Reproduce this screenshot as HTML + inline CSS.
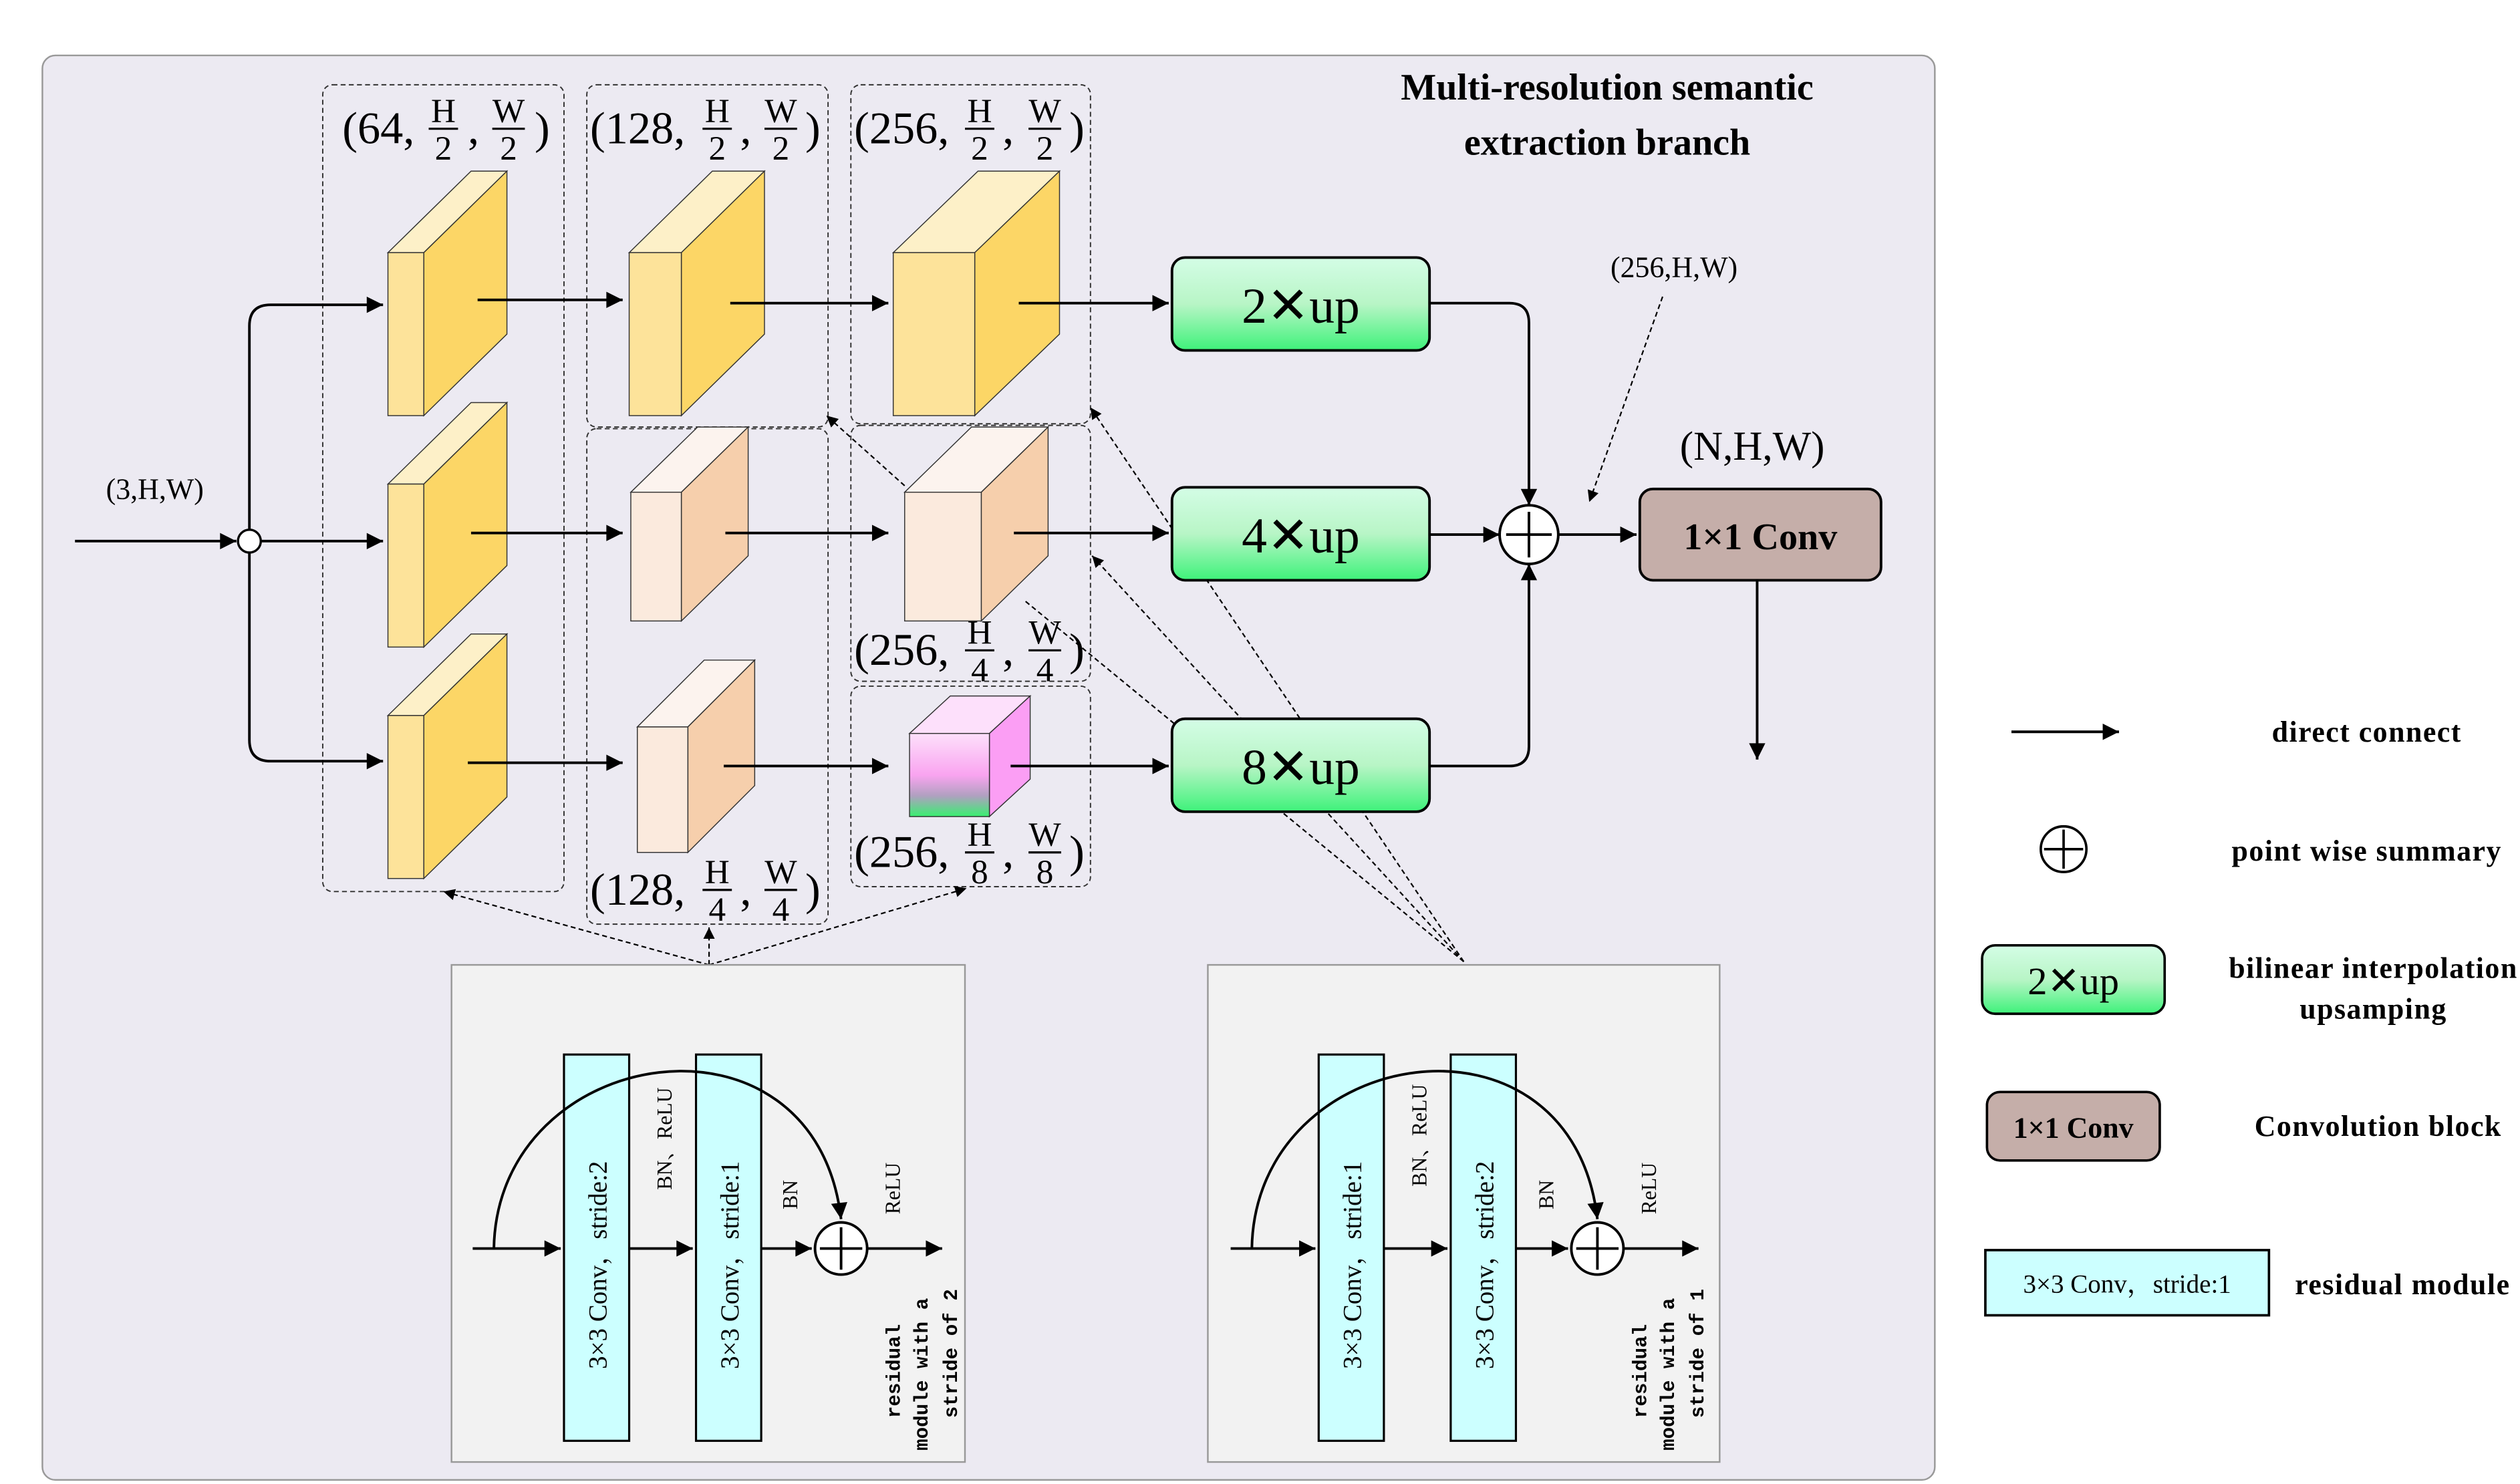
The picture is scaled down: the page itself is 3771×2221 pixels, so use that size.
<!DOCTYPE html>
<html><head><meta charset="utf-8"><style>
html,body{margin:0;padding:0;background:#fff}
svg{display:block}
text{font-family:"Liberation Serif","Noto Serif CJK SC","Noto Sans CJK SC",serif;fill:#000}
.b{font-weight:bold}
.m text{font-family:"Liberation Mono",monospace;font-weight:bold}
</style></head><body>
<svg width="3771" height="2221" viewBox="0 0 1546 910.5" preserveAspectRatio="none" xmlns="http://www.w3.org/2000/svg">
<defs>
<marker id="a" viewBox="0 0 10 10" refX="10" refY="5" markerWidth="11" markerHeight="10" markerUnits="userSpaceOnUse" orient="auto"><path d="M0,0L10,5L0,10z" fill="#000"/></marker>
<marker id="s" viewBox="0 0 10 10" refX="10" refY="5" markerWidth="8" markerHeight="7" markerUnits="userSpaceOnUse" orient="auto"><path d="M0,0L10,5L0,10z" fill="#000"/></marker>
<linearGradient id="g" x1="0" y1="0" x2="0" y2="1"><stop offset="0" stop-color="#d4fde6"/><stop offset="0.5" stop-color="#b8f5c6"/><stop offset="1" stop-color="#3ef27a"/></linearGradient>
<linearGradient id="p" x1="0" y1="0" x2="0" y2="1"><stop offset="0" stop-color="#fde0fb"/><stop offset="0.5" stop-color="#f9a4f0"/><stop offset="0.75" stop-color="#b0a0c0"/><stop offset="1" stop-color="#38f070"/></linearGradient>
</defs>
<rect x="0" y="0" width="1546" height="910.5" fill="#fff"/>
<rect x="26" y="34" width="1161" height="874" rx="8" fill="#eceaf2" stroke="#999" stroke-width="1"/>
<text x="986" y="61" font-size="23" class="b" text-anchor="middle">Multi-resolution semantic</text>
<text x="986" y="95" font-size="23" class="b" text-anchor="middle">extraction branch</text>

<g fill="none" stroke="#333" stroke-width="0.8" stroke-dasharray="3,2">
<rect x="198" y="52" width="148" height="495" rx="6"/>
<rect x="360" y="52" width="148" height="210" rx="6"/>
<rect x="360" y="263" width="148" height="304" rx="6"/>
<rect x="522" y="52" width="147" height="208" rx="6"/>
<rect x="522" y="261" width="147" height="157" rx="6"/>
<rect x="522" y="421" width="147" height="123" rx="6"/>
</g>

<g font-size="28">
<text x="210" y="88">(64,</text><text x="272" y="75" font-size="21" text-anchor="middle">H</text><line x1="263" y1="79" x2="281" y2="79" stroke="#000" stroke-width="1.3"/><text x="272" y="98" font-size="21" text-anchor="middle">2</text><text x="287" y="88">,</text><text x="312" y="75" font-size="21" text-anchor="middle">W</text><line x1="302" y1="79" x2="322" y2="79" stroke="#000" stroke-width="1.3"/><text x="312" y="98" font-size="21" text-anchor="middle">2</text><text x="328" y="88">)</text>
<text x="362" y="88">(128,</text><text x="440" y="75" font-size="21" text-anchor="middle">H</text><line x1="431" y1="79" x2="449" y2="79" stroke="#000" stroke-width="1.3"/><text x="440" y="98" font-size="21" text-anchor="middle">2</text><text x="454" y="88">,</text><text x="479" y="75" font-size="21" text-anchor="middle">W</text><line x1="469" y1="79" x2="489" y2="79" stroke="#000" stroke-width="1.3"/><text x="479" y="98" font-size="21" text-anchor="middle">2</text><text x="494" y="88">)</text>
<text x="524" y="88">(256,</text><text x="601" y="75" font-size="21" text-anchor="middle">H</text><line x1="592" y1="79" x2="610" y2="79" stroke="#000" stroke-width="1.3"/><text x="601" y="98" font-size="21" text-anchor="middle">2</text><text x="615" y="88">,</text><text x="641" y="75" font-size="21" text-anchor="middle">W</text><line x1="631" y1="79" x2="651" y2="79" stroke="#000" stroke-width="1.3"/><text x="641" y="98" font-size="21" text-anchor="middle">2</text><text x="656" y="88">)</text>
<text x="524" y="408">(256,</text><text x="601" y="395" font-size="21" text-anchor="middle">H</text><line x1="592" y1="399" x2="610" y2="399" stroke="#000" stroke-width="1.3"/><text x="601" y="418" font-size="21" text-anchor="middle">4</text><text x="615" y="408">,</text><text x="641" y="395" font-size="21" text-anchor="middle">W</text><line x1="631" y1="399" x2="651" y2="399" stroke="#000" stroke-width="1.3"/><text x="641" y="418" font-size="21" text-anchor="middle">4</text><text x="656" y="408">)</text>
<text x="524" y="532">(256,</text><text x="601" y="519" font-size="21" text-anchor="middle">H</text><line x1="592" y1="523" x2="610" y2="523" stroke="#000" stroke-width="1.3"/><text x="601" y="542" font-size="21" text-anchor="middle">8</text><text x="615" y="532">,</text><text x="641" y="519" font-size="21" text-anchor="middle">W</text><line x1="631" y1="523" x2="651" y2="523" stroke="#000" stroke-width="1.3"/><text x="641" y="542" font-size="21" text-anchor="middle">8</text><text x="656" y="532">)</text>
<text x="362" y="555">(128,</text><text x="440" y="542" font-size="21" text-anchor="middle">H</text><line x1="431" y1="546" x2="449" y2="546" stroke="#000" stroke-width="1.3"/><text x="440" y="565" font-size="21" text-anchor="middle">4</text><text x="454" y="555">,</text><text x="479" y="542" font-size="21" text-anchor="middle">W</text><line x1="469" y1="546" x2="489" y2="546" stroke="#000" stroke-width="1.3"/><text x="479" y="565" font-size="21" text-anchor="middle">4</text><text x="494" y="555">)</text>
</g>

<g fill="none" stroke="#000" stroke-width="0.9" stroke-dasharray="3,2">
<line x1="435" y1="592" x2="272" y2="547" marker-end="url(#s)"/>
<line x1="435" y1="592" x2="435" y2="569" marker-end="url(#s)"/>
<line x1="435" y1="592" x2="593" y2="545" marker-end="url(#s)"/>
<line x1="898" y1="590" x2="669" y2="250" marker-end="url(#s)"/>
<line x1="898" y1="590" x2="670" y2="341" marker-end="url(#s)"/>
<line x1="898" y1="590" x2="628" y2="368"/>
<line x1="555" y1="298" x2="507" y2="255" marker-end="url(#s)"/>
<line x1="1020" y1="182" x2="975" y2="308" marker-end="url(#s)"/>
</g>

<g stroke="#333" stroke-width="0.6">
<g id="y1"><polygon points="238,155 260,155 311,105 289,105" fill="#fdf0c8"/><polygon points="260,155 311,105 311,205 260,255" fill="#fcd666"/><rect x="238" y="155" width="22" height="100" fill="#fde39a"/></g>
<use href="#y1" y="142"/><use href="#y1" y="284"/>
<polygon points="386,155 418,155 469,105 437,105" fill="#fdf0c8"/><polygon points="418,155 469,105 469,205 418,255" fill="#fcd666"/><rect x="386" y="155" width="32" height="100" fill="#fde39a"/>
<polygon points="548,155 598,155 650,105 600,105" fill="#fdf0c8"/><polygon points="598,155 650,105 650,205 598,255" fill="#fcd666"/><rect x="548" y="155" width="50" height="100" fill="#fde39a"/>
<polygon points="387,302 418,302 459,262 428,262" fill="#fcf3ee"/><polygon points="418,302 459,262 459,341 418,381" fill="#f6cfac"/><rect x="387" y="302" width="31" height="79" fill="#fbeadd"/>
<polygon points="391,446 422,446 463,405 432,405" fill="#fcf3ee"/><polygon points="422,446 463,405 463,482 422,523" fill="#f6cfac"/><rect x="391" y="446" width="31" height="77" fill="#fbeadd"/>
<polygon points="555,302 602,302 643,262 596,262" fill="#fcf3ee"/><polygon points="602,302 643,262 643,341 602,381" fill="#f6cfac"/><rect x="555" y="302" width="47" height="79" fill="#fbeadd"/>
<polygon points="558,450 607,450 632,427 583,427" fill="#fde0fb"/><polygon points="607,450 632,427 632,478 607,501" fill="#fb9ef4"/><rect x="558" y="450" width="49" height="51" fill="url(#p)"/>
</g>

<g fill="none" stroke="#000" stroke-width="1.6">
<line x1="46" y1="332" x2="145" y2="332" marker-end="url(#a)"/>
<path d="M153,325 V200 Q153,187 166,187 H235" marker-end="url(#a)"/>
<line x1="160" y1="332" x2="235" y2="332" marker-end="url(#a)"/>
<path d="M153,339 V454 Q153,467 166,467 H235" marker-end="url(#a)"/>
<line x1="293" y1="184" x2="382" y2="184" marker-end="url(#a)"/>
<line x1="448" y1="186" x2="545" y2="186" marker-end="url(#a)"/>
<line x1="625" y1="186" x2="717" y2="186" marker-end="url(#a)"/>
<line x1="289" y1="327" x2="382" y2="327" marker-end="url(#a)"/>
<line x1="445" y1="327" x2="545" y2="327" marker-end="url(#a)"/>
<line x1="622" y1="327" x2="717" y2="327" marker-end="url(#a)"/>
<line x1="287" y1="468" x2="382" y2="468" marker-end="url(#a)"/>
<line x1="444" y1="470" x2="545" y2="470" marker-end="url(#a)"/>
<line x1="620" y1="470" x2="717" y2="470" marker-end="url(#a)"/>
<path d="M877,186 H926 Q938,186 938,198 V310" marker-end="url(#a)"/>
<path d="M877,470 H926 Q938,470 938,458 V346" marker-end="url(#a)"/>
<line x1="877" y1="328" x2="920" y2="328" marker-end="url(#a)"/>
<line x1="956" y1="328" x2="1004" y2="328" marker-end="url(#a)"/>
<line x1="1078" y1="356" x2="1078" y2="466" marker-end="url(#a)"/>
</g>
<circle cx="153" cy="332" r="7" fill="#fff" stroke="#000" stroke-width="1.4"/>
<text x="95" y="306" font-size="18" text-anchor="middle">(3,H,W)</text>

<g stroke="#000" stroke-width="1.6">
<rect x="719" y="158" width="158" height="57" rx="8" fill="url(#g)"/>
<rect x="719" y="299" width="158" height="57" rx="8" fill="url(#g)"/>
<rect x="719" y="441" width="158" height="57" rx="8" fill="url(#g)"/>
</g>
<g font-size="31" text-anchor="middle"><text x="798" y="198">2✕up</text><text x="798" y="339">4✕up</text><text x="798" y="481">8✕up</text></g>

<circle cx="938" cy="328" r="18" fill="#fff" stroke="#000" stroke-width="1.6"/>
<path d="M924,328H952M938,314V342" stroke="#000" stroke-width="1.6"/>
<text x="1027" y="170" font-size="18" text-anchor="middle">(256,H,W)</text>
<text x="1075" y="282" font-size="25" text-anchor="middle">(N,H,W)</text>
<rect x="1006" y="300" width="148" height="56" rx="8" fill="#c5aea9" stroke="#000" stroke-width="1.6"/>
<text x="1080" y="337" font-size="23" class="b" text-anchor="middle">1×1 Conv</text>

<rect x="277" y="592" width="315" height="305" fill="#f2f2f2" stroke="#999" stroke-width="1"/>
<rect x="741" y="592" width="314" height="305" fill="#f2f2f2" stroke="#999" stroke-width="1"/>
<g stroke="#000" stroke-width="1.3" fill="#ccffff">
<rect x="346" y="647" width="40" height="237"/><rect x="427" y="647" width="40" height="237"/>
<rect x="809" y="647" width="40" height="237"/><rect x="890" y="647" width="40" height="237"/>
</g>
<g fill="none" stroke="#000" stroke-width="1.6">
<line x1="290" y1="766" x2="344" y2="766" marker-end="url(#a)"/>
<line x1="386" y1="766" x2="425" y2="766" marker-end="url(#a)"/>
<line x1="467" y1="766" x2="498" y2="766" marker-end="url(#a)"/>
<line x1="532" y1="766" x2="578" y2="766" marker-end="url(#a)"/>
<path d="M303,766 C305,640 500,610 516,748" marker-end="url(#a)"/>
<line x1="755" y1="766" x2="807" y2="766" marker-end="url(#a)"/>
<line x1="849" y1="766" x2="888" y2="766" marker-end="url(#a)"/>
<line x1="930" y1="766" x2="962" y2="766" marker-end="url(#a)"/>
<line x1="996" y1="766" x2="1042" y2="766" marker-end="url(#a)"/>
<path d="M768,766 C770,640 964,610 980,748" marker-end="url(#a)"/>
</g>
<g fill="#fff" stroke="#000" stroke-width="1.6"><circle cx="516" cy="766" r="16"/><circle cx="980" cy="766" r="16"/></g>
<path d="M503,766H529M516,753V779M967,766H993M980,753V779" stroke="#000" stroke-width="1.6"/>
<g font-size="16">
<text transform="translate(372,840) rotate(-90)">3×3 Conv，stride:2</text>
<text transform="translate(453,840) rotate(-90)">3×3 Conv，stride:1</text>
<text transform="translate(835,840) rotate(-90)">3×3 Conv，stride:1</text>
<text transform="translate(916,840) rotate(-90)">3×3 Conv，stride:2</text>
</g>
<g font-size="13">
<text transform="translate(412,730) rotate(-90)">BN、ReLU</text>
<text transform="translate(489,742) rotate(-90)">BN</text>
<text transform="translate(552,745) rotate(-90)">ReLU</text>
<text transform="translate(875,728) rotate(-90)">BN、ReLU</text>
<text transform="translate(953,742) rotate(-90)">BN</text>
<text transform="translate(1016,745) rotate(-90)">ReLU</text>
</g>
<g font-size="12" class="m">
<text transform="translate(552,870) rotate(-90)">residual</text>
<text transform="translate(569,890) rotate(-90)">module with a</text>
<text transform="translate(587,870) rotate(-90)">stride of 2</text>
<text transform="translate(1010,870) rotate(-90)">residual</text>
<text transform="translate(1027,890) rotate(-90)">module with a</text>
<text transform="translate(1045,870) rotate(-90)">stride of 1</text>
</g>

<line x1="1234" y1="449" x2="1300" y2="449" stroke="#000" stroke-width="1.6" marker-end="url(#a)"/>
<g font-size="18" class="b" text-anchor="middle" letter-spacing="0.6">
<text x="1452" y="455">direct connect</text>
<text x="1452" y="528">point wise summary</text>
<text x="1456" y="600">bilinear interpolation</text>
<text x="1456" y="625">upsamping</text>
<text x="1459" y="697">Convolution block</text>
<text x="1474" y="794">residual module</text>
</g>
<circle cx="1266" cy="521" r="14" fill="#fff" stroke="#000" stroke-width="1.5"/>
<path d="M1254,521H1278M1266,509V533" stroke="#000" stroke-width="1.5"/>
<rect x="1216" y="580" width="112" height="42" rx="8" fill="url(#g)" stroke="#000" stroke-width="1.5"/>
<text x="1272" y="610" font-size="24" text-anchor="middle">2✕up</text>
<rect x="1219" y="670" width="106" height="42" rx="8" fill="#c5aea9" stroke="#000" stroke-width="1.5"/>
<text x="1272" y="698" font-size="18" class="b" text-anchor="middle">1×1 Conv</text>
<rect x="1218" y="767" width="174" height="40" fill="#ccffff" stroke="#000" stroke-width="1.5"/>
<text x="1305" y="793" font-size="16" text-anchor="middle">3×3 Conv，stride:1</text>
<rect x="1546" y="0" width="10" height="910" fill="#fff"/>
</svg>
</body></html>
